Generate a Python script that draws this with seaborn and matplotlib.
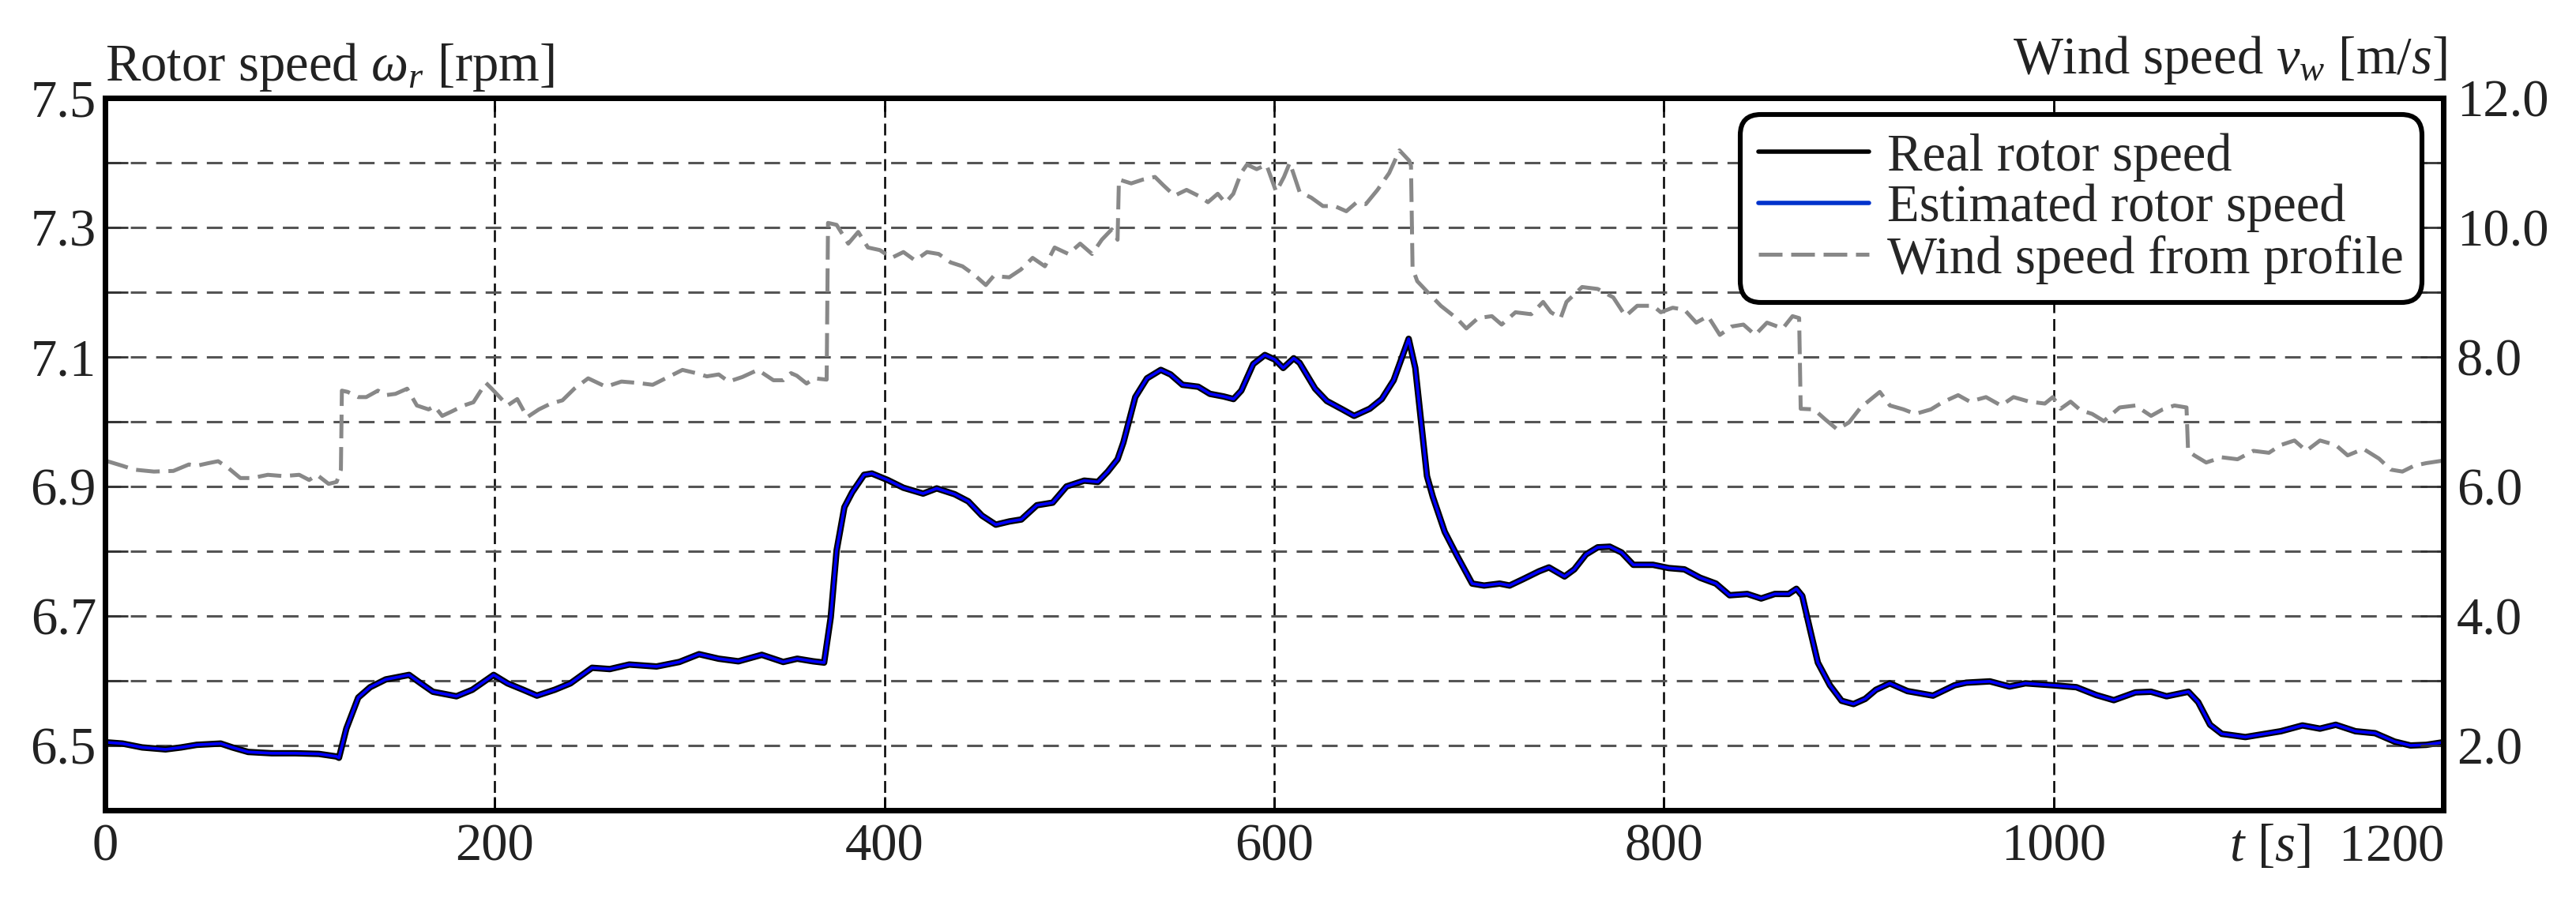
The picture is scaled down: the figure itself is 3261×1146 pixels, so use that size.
import matplotlib
matplotlib.use("Agg")
import matplotlib.pyplot as plt
import pandas as pd
import seaborn as sns
from matplotlib.lines import Line2D

# rotor speed [rpm] (real and estimated traces overlap)
rotor_t = [0, 8.9, 19, 31, 39, 47, 59.3, 65.3, 73.4, 85.5, 97.6, 109.7, 118.8, 120,
           123.8, 129.9, 136, 144, 156, 162, 168.2, 180.3, 188.4, 199.4, 206.5, 214.6,
           221.6, 230.7, 238.8, 249.9, 259, 269, 283, 294.7, 304.8, 314.9, 325, 337,
           348, 355.2, 363.3, 369, 372.4, 375.4, 379.4, 383.4, 389.5, 393.5, 401.6,
           409.7, 419.8, 426.8, 436, 443, 450, 457.1, 464.1, 470.2, 478.2, 486.3,
           493.4, 502.5, 509.5, 514.6, 519.6, 522.6, 528.7, 534.7, 541.8, 546.8,
           552.9, 561, 567, 574, 579.1, 583.1, 589.2, 595.2, 600.3, 604.6, 610, 613,
           621, 627, 635, 641, 649, 655.2, 661.3, 669, 672.4, 675.4, 678.4, 681.4,
           687.5, 693.5, 701.6, 707.7, 715.7, 720.8, 727.8, 735.9, 741, 749, 754, 760,
           766, 772.2, 778.3, 784.3, 794.4, 802.5, 810.5, 818.6, 826.7, 833.7, 842.8,
           849.9, 856.9, 864, 868, 871, 875, 879, 885.2, 891.2, 897.3, 903.3, 908.8,
           915.9, 925, 938.1, 949.2, 955.2, 967.3, 977.4, 985.5, 999.6, 1011.7,
           1021.8, 1030.9, 1042, 1050, 1058, 1069.2, 1074.2, 1080.3, 1086.3, 1098.4,
           1108.5, 1116.6, 1127.7, 1136.7, 1144.8, 1154.9, 1165, 1175, 1183.2, 1191.2,
           1200]
rotor_real = [6.505, 6.503, 6.497, 6.494, 6.497, 6.501, 6.503, 6.497, 6.490, 6.488,
              6.488, 6.487, 6.483, 6.481, 6.526, 6.574, 6.590, 6.602, 6.609, 6.596,
              6.583, 6.576, 6.586, 6.609, 6.596, 6.586, 6.577, 6.586, 6.596, 6.620,
              6.618, 6.625, 6.622, 6.629, 6.641, 6.634, 6.630, 6.640, 6.629, 6.634,
              6.630, 6.628, 6.698, 6.801, 6.868, 6.891, 6.918, 6.920, 6.910, 6.898,
              6.889, 6.897, 6.888, 6.877, 6.855, 6.841, 6.846, 6.849, 6.871, 6.875,
              6.900, 6.909, 6.907, 6.923, 6.942, 6.968, 7.038, 7.067, 7.080, 7.073,
              7.057, 7.054, 7.043, 7.039, 7.035, 7.048, 7.089, 7.103, 7.096, 7.083,
              7.098, 7.091, 7.051, 7.032, 7.019, 7.009, 7.020, 7.035, 7.064, 7.128,
              7.083, 7.000, 6.916, 6.884, 6.830, 6.795, 6.750, 6.747, 6.750, 6.747,
              6.757, 6.769, 6.775, 6.761, 6.772, 6.795, 6.806, 6.807, 6.798, 6.779,
              6.779, 6.774, 6.772, 6.759, 6.750, 6.732, 6.734, 6.727, 6.734, 6.734,
              6.742, 6.731, 6.679, 6.628, 6.593, 6.569, 6.564, 6.572, 6.586, 6.596,
              6.584, 6.577, 6.593, 6.597, 6.599, 6.591, 6.596, 6.593, 6.590, 6.578,
              6.570, 6.582, 6.583, 6.576, 6.583, 6.567, 6.532, 6.518, 6.513, 6.518,
              6.522, 6.531, 6.526, 6.532, 6.522, 6.519, 6.506, 6.500, 6.501, 6.505]
rotor_est = rotor_real

# wind speed profile [m/s]
wind_t = [0, 8.8, 14.9, 25, 35, 43, 47, 53, 58, 63, 69.4, 75.4, 83.5, 91.5, 99.6,
          104.7, 108.7, 114.7, 118.8, 121.0, 121.5, 124.5, 129.9, 134, 140, 144, 149,
          155, 160, 166, 169, 173, 178, 184, 189, 195.4, 198.4, 202.5, 206.5, 211.5,
          216.6, 222.6, 228.7, 234.7, 240.8, 247.9, 257, 265, 273, 281, 289, 296.3,
          303.3, 308.8, 314.9, 320, 327, 335, 343, 348, 352, 355, 360, 364, 370.3,
          371.0, 375.4, 381.4, 386.5, 391.5, 397.6, 403.6, 409.7, 415.7, 421.8, 427.8,
          433.9, 440, 446, 452, 456, 464, 470, 476, 482.3, 487.3, 494.4, 500.4, 506.5,
          511.5, 516.6, 519.6, 520.3, 526.6, 532.7, 538.8, 542.8, 548.8, 555, 561,
          566, 571, 575, 579, 583, 586, 591, 596, 601, 605, 608, 613, 619, 625, 631,
          637, 642, 647, 653, 659, 664.3, 669.3, 670.2, 671.0, 673.4, 679.4, 685.5,
          693.5, 698.6, 704.6, 711.7, 716.7, 723.8, 731.9, 738, 742, 747, 750, 758,
          766, 774, 780.3, 786.3, 794.4, 798.4, 804.5, 810.5, 816.6, 822.6, 828.7,
          834.7, 840.8, 846.8, 852.9, 861, 866, 869.4, 870.2, 877, 883, 889, 895, 901,
          910.8, 916, 923, 929, 937, 943, 951, 957, 965.3, 973, 979.4, 987.5, 995.5,
          999.6, 1003.6, 1008.7, 1013.7, 1019.8, 1025.8, 1033.9, 1042, 1050, 1056,
          1062, 1068.2, 1069.0, 1072.2, 1078.3, 1086.3, 1094.4, 1102.5, 1110.5,
          1116.6, 1123.6, 1129.7, 1136.7, 1144.8, 1150.9, 1159, 1167, 1173, 1179,
          1185, 1191.2, 1200]
wind_speed = [6.40, 6.32, 6.26, 6.23, 6.24, 6.34, 6.32, 6.36, 6.39, 6.29, 6.13, 6.13,
              6.18, 6.16, 6.18, 6.10, 6.18, 6.04, 6.07, 6.26, 7.48, 7.46, 7.38, 7.38,
              7.48, 7.41, 7.43, 7.51, 7.25, 7.19, 7.24, 7.09, 7.16, 7.25, 7.30, 7.60,
              7.51, 7.38, 7.25, 7.35, 7.07, 7.19, 7.28, 7.33, 7.51, 7.67, 7.54, 7.62,
              7.60, 7.57, 7.69, 7.80, 7.75, 7.70, 7.73, 7.62, 7.69, 7.80, 7.64, 7.64,
              7.75, 7.71, 7.59, 7.67, 7.65, 10.07, 10.04, 9.75, 9.93, 9.69, 9.65, 9.53,
              9.62, 9.49, 9.62, 9.59, 9.46, 9.40, 9.27, 9.11, 9.25, 9.23, 9.35, 9.53,
              9.40, 9.69, 9.59, 9.75, 9.59, 9.81, 9.97, 9.81, 10.74, 10.68, 10.74, 10.78,
              10.66, 10.49, 10.58, 10.49, 10.39, 10.52, 10.38, 10.52, 10.84, 10.97,
              10.90, 10.97, 10.55, 10.78, 11.00, 10.55, 10.46, 10.33, 10.33, 10.25,
              10.38, 10.36, 10.58, 10.84, 11.19, 11.03, 10.95, 9.37, 9.17, 8.98, 8.79,
              8.60, 8.44, 8.60, 8.63, 8.50, 8.69, 8.66, 8.85, 8.69, 8.60, 8.85, 9.08,
              9.05, 8.92, 8.63, 8.79, 8.79, 8.69, 8.76, 8.73, 8.53, 8.63, 8.34, 8.47,
              8.50, 8.34, 8.53, 8.44, 8.63, 8.60, 7.20, 7.19, 7.03, 6.88, 6.99, 7.22,
              7.46, 7.25, 7.19, 7.12, 7.19, 7.30, 7.41, 7.31, 7.38, 7.25, 7.38, 7.31,
              7.28, 7.38, 7.20, 7.31, 7.18, 7.12, 7.01, 7.22, 7.25, 7.09, 7.19, 7.25,
              7.22, 6.55, 6.48, 6.37, 6.45, 6.42, 6.55, 6.52, 6.64, 6.71, 6.55, 6.71,
              6.64, 6.48, 6.58, 6.43, 6.26, 6.23, 6.32, 6.36, 6.40]

x_ticks = [0, 200, 400, 600, 800, 1000, 1200]
x_tick_labels = ["0", "200", "400", "600", "800", "1000", "$t$ [$s$]  1200"]
rotor_ticks = [6.5, 6.6, 6.7, 6.8, 6.9, 7.0, 7.1, 7.2, 7.3, 7.4, 7.5]
rotor_tick_labels = ["6.5", "", "6.7", "", "6.9", "", "7.1", "", "7.3", "", "7.5"]
wind_ticks = [2, 3, 4, 5, 6, 7, 8, 9, 10, 11, 12]
wind_tick_labels = ["2.0", "", "4.0", "", "6.0", "", "8.0", "", "10.0", "", "12.0"]
legend_labels = ["Real rotor speed", "Estimated rotor speed", "Wind speed from profile"]

sns.set_theme(style="white")
plt.rcParams["font.family"] = ["Liberation Serif", "DejaVu Serif"]
plt.rcParams["mathtext.fontset"] = "custom"
plt.rcParams["mathtext.rm"] = "Liberation Serif"
plt.rcParams["mathtext.it"] = "Liberation Serif:italic"
plt.rcParams["mathtext.bf"] = "Liberation Serif:bold"
FS = 24

rotor_df = pd.DataFrame({"t": rotor_t, "real": rotor_real, "est": rotor_est})
wind_df = pd.DataFrame({"t": wind_t, "wind": wind_speed})

fig, ax = plt.subplots(figsize=(16.31, 5.73), dpi=200)
fig.subplots_adjust(left=0.0408, right=0.9482, bottom=0.1047, top=0.8918)
ax2 = ax.twinx()

sns.lineplot(data=rotor_df, x="t", y="real", ax=ax, color="black", linewidth=2.9,
             estimator=None, legend=False)
sns.lineplot(data=rotor_df, x="t", y="est", ax=ax, color="#0000ff", linewidth=1.3,
             estimator=None, legend=False)
sns.lineplot(data=wind_df, x="t", y="wind", ax=ax2, color="#888888", linewidth=1.8,
             estimator=None, legend=False)
ax2.get_lines()[0].set_linestyle((0, (6, 2.2)))

ax.set_xlim(0, 1200)
ax.set_ylim(6.4, 7.5)
ax2.set_ylim(1, 12)
ax.set_xlabel("")
ax.set_ylabel("")
ax2.set_ylabel("")

ax.set_xticks(x_ticks)
ax.set_xticklabels(x_tick_labels, fontsize=FS, color="#222222")
ax.get_xticklabels()[-1].set_ha("right")
ax.set_yticks(rotor_ticks)
ax.set_yticklabels(rotor_tick_labels, fontsize=FS, color="#222222")
ax2.set_yticks(wind_ticks)
ax2.set_yticklabels(wind_tick_labels, fontsize=FS, color="#222222")

ax.tick_params(axis="y", direction="in", length=10.5, width=1.0, pad=4,
               left=True, right=False, color="#333333")
ax.tick_params(axis="x", direction="in", length=6, width=1.0, pad=6,
               top=True, bottom=True, color="black")
ax2.tick_params(axis="y", direction="in", length=10.5, width=1.0, pad=6,
                right=True, left=False, color="#333333")

ax.yaxis.grid(True, color="#555555", linewidth=1.1, linestyle=(0, (6.5, 4)))
ax.xaxis.grid(True, color="black", linewidth=0.9, linestyle=(0, (6, 3)))
ax.set_axisbelow(True)

for a in (ax, ax2):
    for sp in a.spines.values():
        sp.set_visible(True)
        sp.set_color("black")
        sp.set_linewidth(2.5)

ax.annotate("Rotor speed $\\omega_r$ [rpm]", xy=(0, 1), xycoords="axes fraction",
            xytext=(0, 8), textcoords="offset points", ha="left", va="baseline",
            fontsize=FS, color="#222222")
ax.annotate("Wind speed $v_w$ [m/$s$]", xy=(1, 1), xycoords="axes fraction",
            xytext=(1.5, 11), textcoords="offset points", ha="right", va="baseline",
            fontsize=FS, color="#222222")

handles = [Line2D([], [], color="black", linewidth=2.0),
           Line2D([], [], color="#0033cc", linewidth=2.0),
           Line2D([], [], color="#888888", linewidth=1.8, linestyle=(0, (6, 2.2)))]
leg = ax2.legend(handles, legend_labels, loc="upper right", bbox_to_anchor=(0.991, 0.977),
                 borderaxespad=0, frameon=True, fancybox=True, framealpha=1,
                 edgecolor="black", facecolor="white", fontsize=FS, handlelength=2.1,
                 handletextpad=0.35, borderpad=0.35, labelspacing=0.05)
leg.get_frame().set_linewidth(2.2)
leg.get_frame().set_boxstyle("round,pad=0,rounding_size=0.4")

fig.savefig("out.png", dpi=200, facecolor="white")
